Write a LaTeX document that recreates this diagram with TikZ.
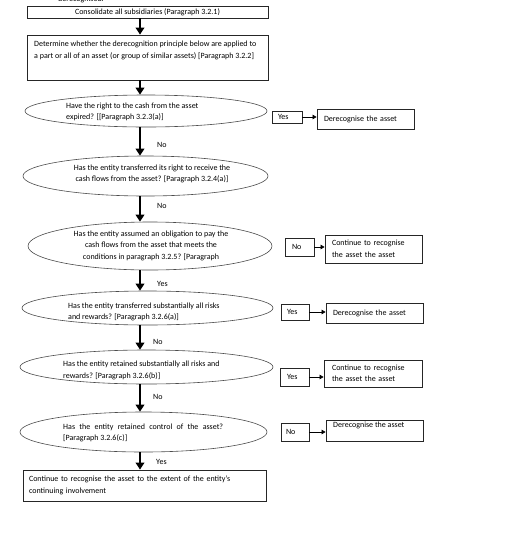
\documentclass[tikz,border=0pt]{standalone}
\usepackage{fontspec}
\setmainfont{Carlito}
\usetikzlibrary{shapes.geometric,arrows.meta}
\pgfdeclarelayer{background}
\pgfsetlayers{background,main}
\begin{document}
\begin{tikzpicture}[x=1pt,y=-1pt,
  every node/.style={font=\fontsize{8}{11.5}\selectfont, text=black},
  rbox/.style={draw=black!85, line width=0.8pt, inner ysep=0pt, align=left},
  ell/.style={draw=black!70, ellipse, line width=0.6pt, inner sep=0pt, fill=white},
  txt/.style={align=left, anchor=north west, inner sep=0pt},
  bigarrow/.style={line width=2.2pt, -{Triangle[length=7pt,width=8.5pt]}},
  smallarrow/.style={line width=0.7pt, -{Triangle[length=4pt,width=4.5pt]}},
  link/.style={line width=0.7pt, draw=black!85},
  lbl/.style={inner sep=0pt, anchor=west}]
\fill[white] (0,0) rectangle (520,547);
\useasboundingbox (0,0) rectangle (520,547);
\clip (0,0) rectangle (520,547);
\coordinate (ax) at (140,0);

\node[txt, anchor=base west] (cut) at (58,1.5) {derecognised.};

% top boxes
\node[rbox, minimum width=241pt, minimum height=12pt, align=center, inner xsep=0pt] (b0) at (147.5,12) {Consolidate all subsidiaries (Paragraph 3.2.1)};
\node[rbox, minimum width=241pt, minimum height=45pt] (b1) at (147.5,57.5) {};
\node[txt] (t1) at (34,41) {Determine whether the derecognition principle below are applied to\\a part or all of an asset (or group of similar assets) [Paragraph 3.2.2]};

% ellipses
\node[ell, minimum width=242pt, minimum height=32pt] (e1) at (146,111) {};
\node[txt] (t2) at (66,102.5) {Have the right to the cash from the asset\\expired? [[Paragraph 3.2.3(a)]};

\node[ell, minimum width=245pt, minimum height=40pt] (e2) at (145.5,176) {};
\node[txt, align=center, anchor=north] (t3) at (152,164.5) {Has the entity transferred its right to receive the\\cash flows from the asset? [Paragraph 3.2.4(a)]};

\node[ell, minimum width=244pt, minimum height=48pt] (e3) at (150,246) {};
\node[txt, align=center, anchor=north] (t4) at (151,230.5) {Has the entity assumed an obligation to pay the\\cash flows from the asset that meets the\\conditions in paragraph 3.2.5? [Paragraph};

\node[ell, minimum width=251pt, minimum height=34pt] (e4) at (147.5,308) {};
\node[txt] (t5) at (68,302.5) {Has the entity transferred substantially all risks\\and rewards? [Paragraph 3.2.6(a)]};

\node[ell, minimum width=253pt, minimum height=34pt] (e5) at (146.5,367) {};
\node[txt] (t6) at (63,361) {Has the entity retained substantially all risks and\\rewards? [Paragraph 3.2.6(b)]};

\node[ell, minimum width=247pt, minimum height=40pt] (e6) at (143.5,432) {};
\node[txt] (t7) at (63,423.5) {\makebox[160pt][s]{Has the entity retained control of the asset?}\\{}[Paragraph 3.2.6(c)]};

\node[rbox, minimum width=243pt, minimum height=31pt, inner xsep=6pt, text width=231pt] (b2) at (144.5,485.5) {Continue to recognise the asset to the extent of the entity’s\\continuing involvement};

% right side boxes
\node[rbox, minimum width=30pt, minimum height=12pt, inner xsep=6pt, text width=18pt] (y1) at (287,117) {Yes};
\node[rbox, minimum width=97pt, minimum height=20pt, inner xsep=7pt, text width=83pt] (d1) at (365.5,119) {Derecognise the asset};

\node[rbox, minimum width=29pt, minimum height=18pt, inner xsep=7pt, text width=15pt] (n1) at (299.5,247) {No};
\node[rbox, minimum width=97pt, minimum height=28pt, inner xsep=7pt, text width=83pt] (c1) at (373.5,249) {Continue to recognise\\the asset the asset};

\node[rbox, minimum width=28pt, minimum height=16pt, inner xsep=6pt, text width=16pt] (y2) at (295,312) {Yes};
\node[rbox, minimum width=97pt, minimum height=20pt, inner xsep=7pt, text width=83pt] (d2) at (374.5,313) {Derecognise the asset};

\node[rbox, minimum width=29pt, minimum height=18pt, inner xsep=7pt, text width=15pt] (y3) at (294.5,377) {Yes};
\node[rbox, minimum width=98pt, minimum height=27pt, inner xsep=8pt, text width=82pt] (c2) at (373,373.5) {Continue to recognise\\the asset the asset};

\node[rbox, minimum width=28pt, minimum height=18pt, inner xsep=5pt, text width=18pt] (n2) at (295,432) {No};
\node[rbox, minimum width=97pt, minimum height=21pt] (d3) at (374.5,430.5) {};
\node[txt] (t8) at (333,421.5) {Derecognise the asset};

% links from ellipses (behind the white ellipses)
\begin{pgfonlayer}{background}
\draw[link] (y1.west) -- (y1.west -| e1.center);
\draw[link] (n1.west) -- (n1.west -| e3.center);
\draw[link] (y2.west) -- (y2.west -| e4.center);
\draw[link] (y3.west) -- (y3.west -| e5.center);
\draw[link] (n2.west) -- (n2.west -| e6.center);
\end{pgfonlayer}

\draw[smallarrow] (y1.east) -- (y1.east -| d1.west);
\draw[smallarrow] (n1.east) -- (n1.east -| c1.west);
\draw[smallarrow] (y2.east) -- (y2.east -| d2.west);
\draw[smallarrow] (y3.east) -- (y3.east -| c2.west);
\draw[smallarrow] (n2.east) -- (n2.east -| d3.west);

% main arrows
\draw[bigarrow] (b0.south -| ax) -- (b1.north -| ax);
\draw[bigarrow] (b1.south -| ax) -- (e1.north -| ax);
\draw[bigarrow] (e1.south -| ax) -- (e2.north -| ax);
\draw[bigarrow] (e2.south -| ax) -- (e3.north -| ax);
\draw[bigarrow] (e3.south -| ax) -- (e4.north -| ax);
\draw[bigarrow] (e4.south -| ax) -- (e5.north -| ax);
\draw[bigarrow] (e5.south -| ax) -- (e6.north -| ax);
\draw[bigarrow] (e6.south -| ax) -- (b2.north -| ax);

\node[lbl] (l1) at (157,145) {No};
\node[lbl] (l2) at (157,206) {No};
\node[lbl] (l3) at (157,284) {Yes};
\node[lbl] (l4) at (153,342) {No};
\node[lbl] (l5) at (153,397) {No};
\node[lbl] (l6) at (156,462) {Yes};
\end{tikzpicture}
\end{document}
